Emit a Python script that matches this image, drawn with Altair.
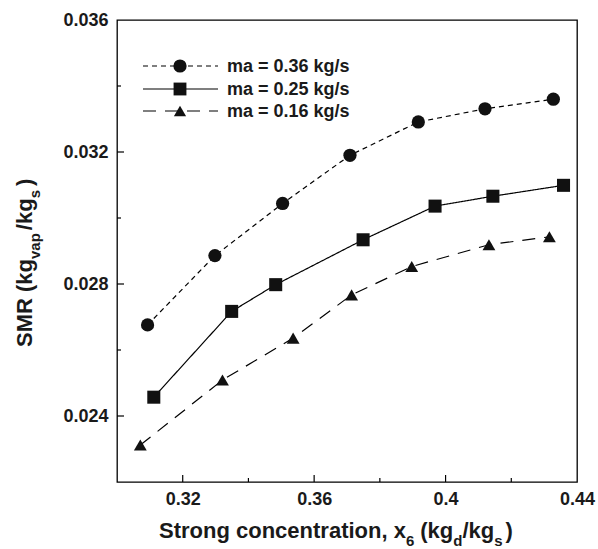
import altair as alt
import pandas as pd

# ---------------- data ----------------
series = ["ma = 0.36 kg/s", "ma = 0.25 kg/s", "ma = 0.16 kg/s"]

x_036 = [0.3093, 0.3298, 0.3504, 0.3709, 0.3917, 0.4120, 0.4328]
y_036 = [0.02676, 0.02886, 0.03044, 0.03190, 0.03291, 0.03331, 0.03360]

x_025 = [0.3112, 0.3349, 0.3483, 0.3749, 0.3968, 0.4144, 0.4359]
y_025 = [0.02457, 0.02717, 0.02798, 0.02934, 0.03036, 0.03066, 0.03099]

x_016 = [0.3071, 0.3321, 0.3536, 0.3714, 0.3897, 0.4132, 0.4316]
y_016 = [0.02312, 0.02509, 0.02636, 0.02767, 0.02853, 0.02919, 0.02943]

x_major = [0.32, 0.36, 0.40, 0.44]
x_minor = [0.34, 0.38, 0.42]
y_major = [0.024, 0.028, 0.032, 0.036]
y_minor = [0.026, 0.030, 0.034]

x_domain = [0.30, 0.44]
y_domain = [0.022, 0.036]

# ---------------- layout ----------------
W, H = 460, 462
FONT = "Liberation Sans"
MAIN_FS = 22
SUB_FS = 15
INK = "#1a1a1a"

rows = []
for name, xs_, ys_ in [(series[0], x_036, y_036), (series[1], x_025, y_025), (series[2], x_016, y_016)]:
    for i, (a, b) in enumerate(zip(xs_, ys_)):
        rows.append({"series": name, "x": a, "y": b, "order": i})
df = pd.DataFrame(rows)

xs = alt.Scale(domain=x_domain, nice=False, zero=False)
ys = alt.Scale(domain=y_domain, nice=False, zero=False)

leg_dash = [[5, 4], [1, 0], [13, 9]]
leg_shape = ["circle", "square", "triangle-up"]
leg_size = [175, 165, 150]

dash_scale = alt.Scale(domain=series, range=leg_dash)
shape_scale = alt.Scale(domain=series, range=leg_shape)
size_scale = alt.Scale(domain=series, range=leg_size)

base = alt.Chart(df)

lines = base.mark_line(color="black", strokeWidth=1.2).encode(
    x=alt.X("x:Q", scale=xs, title="",
            axis=alt.Axis(values=x_major, format=".2~f", ticks=False, domain=False, grid=False,
                          labelFont=FONT, labelFontSize=18, labelFontWeight="bold",
                          labelColor=INK, labelPadding=8, labelFlush=False)),
    y=alt.Y("y:Q", scale=ys, title="",
            axis=alt.Axis(values=y_major, format=".3f", ticks=False, domain=False, grid=False,
                          labelFont=FONT, labelFontSize=18, labelFontWeight="bold",
                          labelColor=INK, labelPadding=9, labelFlush=False)),
    strokeDash=alt.StrokeDash("series:N", scale=dash_scale, legend=None),
    detail="series:N",
    order="order:Q",
)

points = base.mark_point(filled=True, color="#111", opacity=1).encode(
    x=alt.X("x:Q", scale=xs),
    y=alt.Y("y:Q", scale=ys),
    shape=alt.Shape("series:N", scale=shape_scale, legend=None),
    size=alt.Size("series:N", scale=size_scale, legend=None),
)

# inward ticks
def xticks(vals, length):
    d = pd.DataFrame({"v": vals})
    return alt.Chart(d).mark_rule(color="black", strokeWidth=1.2).encode(
        x=alt.X("v:Q", scale=xs), y=alt.value(H), y2=alt.value(H - length))

def yticks(vals, length):
    d = pd.DataFrame({"v": vals})
    return alt.Chart(d).mark_rule(color="black", strokeWidth=1.2).encode(
        y=alt.Y("v:Q", scale=ys), x=alt.value(0), x2=alt.value(length))

ticks = [xticks(x_major[:-1], 7), xticks(x_minor, 4), yticks(y_major[:-1], 7), yticks(y_minor, 4)]

# ---------------- legend (manual) ----------------
legend_layers = []
leg_y = [46, 69, 91]
one = pd.DataFrame({"k": [0]})
for i, name in enumerate(series):
    legend_layers.append(
        alt.Chart(one).mark_rule(color="black", strokeWidth=1.2, strokeDash=leg_dash[i]).encode(
            x=alt.value(26), x2=alt.value(101), y=alt.value(leg_y[i])))
    legend_layers.append(
        alt.Chart(one).mark_point(filled=True, color="#111", opacity=1, shape=leg_shape[i],
                                  size=leg_size[i]).encode(x=alt.value(63), y=alt.value(leg_y[i])))
    legend_layers.append(
        alt.Chart(pd.DataFrame({"t": [name]})).mark_text(
            font=FONT, fontSize=18, fontWeight="bold", color=INK, align="left", baseline="middle"
        ).encode(text="t:N", x=alt.value(110), y=alt.value(leg_y[i] + 1)))

# ---------------- axis titles with subscripts ----------------
AW = {'S': 667, 't': 333, 'r': 389, 'o': 611, 'n': 611, 'g': 611, ' ': 278, 'c': 556, 'e': 556,
      'a': 556, 'i': 278, ',': 278, 'x': 556, '(': 333, 'k': 556, '/': 278, ')': 333, 'd': 611,
      's': 556, '6': 556, 'M': 833, 'R': 722, 'v': 556, 'p': 611}

def tw(s, fs):
    return sum(AW.get(ch, 556) for ch in s) * fs / 1000.0

# (text, is_subscript, gap before in px)
x_title = [("Strong concentration, x", False, 0), ("6", True, 0), ("(kg", False, 6), ("d", True, 0),
           ("/kg", False, 0), ("s", True, 0), (")", False, 3)]
y_title = [("SMR (kg", False, 0), ("vap", True, 0), ("/kg", False, 3), ("s", True, 0), (")", False, 4)]

title_layers = []
cx = 42
for txt, sub, gap in x_title:
    fs = SUB_FS if sub else MAIN_FS
    cx += gap
    title_layers.append(
        alt.Chart(pd.DataFrame({"t": [txt]})).mark_text(
            font=FONT, fontSize=fs, fontWeight="bold", color=INK, align="left", baseline="alphabetic"
        ).encode(text="t:N", x=alt.value(cx), y=alt.value(526 if sub else 518)))
    cx += tw(txt, fs)

cy = 327
for txt, sub, gap in y_title:
    fs = SUB_FS if sub else MAIN_FS
    cy -= gap
    title_layers.append(
        alt.Chart(pd.DataFrame({"t": [txt]})).mark_text(
            font=FONT, fontSize=fs, fontWeight="bold", color=INK, align="left", baseline="alphabetic",
            angle=270
        ).encode(text="t:N", x=alt.value(-77 if sub else -85), y=alt.value(cy)))
    cy -= tw(txt, fs)

chart = alt.layer(lines, points, *ticks, *legend_layers, *title_layers).properties(
    width=W, height=H,
    padding={"left": 117, "top": 20, "right": 21, "bottom": 67},
    autosize=alt.AutoSizeParams(type="none"),
    background="white",
).configure_view(stroke="black", strokeWidth=1.3)

chart.save("out.html", embed_options={"renderer": "svg", "actions": False})
